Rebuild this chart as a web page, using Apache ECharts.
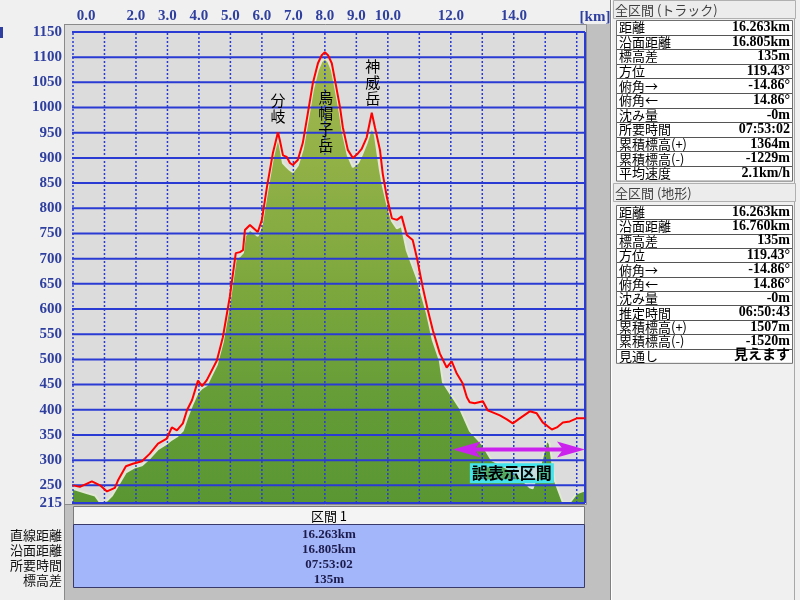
<!DOCTYPE html>
<html><head><meta charset="utf-8">
<script src="https://cdn.jsdelivr.net/npm/echarts@6/dist/echarts.min.js"></script>
<style>html,body{margin:0;padding:0;background:#f0f0f0;}#c{width:800px;height:600px;}</style>
</head><body><div id="c"></div>
<script>
// ---- data ----
const trackDist = [0,0.22,0.60,0.86,1.08,1.33,1.43,1.68,1.90,2.19,2.44,2.70,2.98,3.14,3.30,3.49,3.62,3.78,3.97,4.10,4.25,4.57,4.76,4.98,5.17,5.30,5.40,5.46,5.62,5.87,6.00,6.16,6.35,6.51,6.57,6.67,6.79,6.89,6.98,7.14,7.30,7.46,7.62,7.78,7.90,8.00,8.10,8.22,8.32,8.48,8.57,8.73,8.89,9.05,9.17,9.33,9.49,9.59,9.75,9.84,9.97,10.13,10.29,10.44,10.60,10.79,10.92,11.11,11.27,11.43,11.65,11.87,12.03,12.19,12.38,12.51,12.60,12.76,13.02,13.17,13.33,13.56,13.78,13.97,14.19,14.51,14.73,14.92,15.21,15.37,15.56,15.78,16.00,16.263];
const trackElev = [250,247,258,250,238,245,260,288,293,298,313,333,343,365,359,373,399,419,458,447,459,498,544,624,711,713,717,757,767,753,777,842,910,951,935,905,902,890,886,896,930,989,1049,1088,1104,1110,1104,1088,1055,1001,961,916,900,909,918,941,990,961,916,868,822,780,777,784,747,737,703,643,598,558,512,484,496,472,452,425,415,413,417,399,395,389,381,373,383,397,393,375,361,365,375,377,383,383];
const terrainDist = [0,0.38,0.70,0.86,1.08,1.24,1.43,1.68,1.97,2.19,2.44,2.70,2.98,3.14,3.30,3.49,3.62,3.78,3.97,4.10,4.25,4.57,4.76,4.98,5.17,5.30,5.40,5.46,5.62,5.87,6.00,6.16,6.35,6.51,6.57,6.67,6.79,6.89,6.98,7.14,7.30,7.46,7.62,7.78,7.90,8.00,8.10,8.22,8.32,8.48,8.57,8.73,8.89,9.05,9.17,9.33,9.49,9.59,9.75,9.84,9.97,10.13,10.29,10.44,10.60,10.92,11.24,11.43,11.65,11.75,12.29,12.60,12.98,13.30,13.78,14.19,14.51,14.60,14.89,15.05,15.14,15.30,15.56,15.78,16.00,16.263];
const terrainElev = [243,236,230,216,220,230,250,276,286,290,304,322,333,341,347,359,383,409,435,443,449,490,535,615,700,705,712,745,758,745,768,830,900,942,925,890,882,876,872,885,918,975,1035,1075,1092,1098,1092,1075,1043,988,950,905,882,890,905,930,962,945,876,845,810,775,760,765,717,663,592,538,498,455,403,359,333,300,284,266,246,244,300,340,333,260,216,216,234,240];
const xLabelValues = [0,2,3,4,5,6,7,8,9,10,12,14];
const xGridValues = [0,1,2,3,4,5,6,7,8,9,10,11,12,13,14,15,16];
const yTickValues = [215,250,300,350,400,450,500,550,600,650,700,750,800,850,900,950,1000,1050,1100,1150];
const X_MIN = 0, X_MAX = 16.263, Y_MIN = 215, Y_MAX = 1150;
const peakNames = ['分岐','烏帽子岳','神威岳'];
const peakDist = [6.51, 8.03, 9.52];
const peakLabelElev = [999, 973, 1051];
const errorRangeStart = 12.06, errorRangeEnd = 16.263, errorArrowElev = 321;
const errorLabel = '誤表示区間', errorLabelDist = 13.94, errorLabelElev = 274;
const sectionTitle = '区間 1';
const sectionLabels = ['直線距離','沿面距離','所要時間','標高差'];
const sectionValues = ['16.263km','16.805km','07:53:02','135m'];
const panel1Title = '全区間 (トラック)';
const panel1Labels = ['距離','沿面距離','標高差','方位','俯角→','俯角←','沈み量','所要時間','累積標高(+)','累積標高(-)','平均速度'];
const panel1Values = ['16.263km','16.805km','135m','119.43°','-14.86°','14.86°','-0m','07:53:02','1364m','-1229m','2.1km/h'];
const panel2Title = '全区間 (地形)';
const panel2Labels = ['距離','沿面距離','標高差','方位','俯角→','俯角←','沈み量','推定時間','累積標高(+)','累積標高(-)','見通し'];
const panel2Values = ['16.263km','16.760km','135m','119.43°','-14.86°','14.86°','-0m','06:50:43','1507m','-1520m','見えます'];

// ---- styles ----
const AX = '#2f3f9f';
const SERIF = '"Liberation Serif", "Noto Sans CJK JP", serif';
const JP = '"Noto Sans CJK JP", sans-serif';
const GRID_BLUE = '#2a3bd4';

const chart = echarts.init(document.getElementById('c'));

const option = {
  animation: false,
  backgroundColor: '#f0f0f0',
  grid: { left: 73, top: 32, width: 512, height: 471, containLabel: false },
  xAxis: {
    type: 'value', position: 'top', min: X_MIN, max: X_MAX,
    axisLine: { show: false }, axisTick: { show: false }, splitLine: { show: false },
    axisLabel: {
      customValues: xLabelValues, margin: 8,
      color: AX, fontFamily: SERIF, fontWeight: 'bold', fontSize: 15,
      formatter: v => v === 0 ? '{z|0.0}' : v.toFixed(1),
      rich: { z: { padding: [0,0,0,26], color: AX, fontFamily: SERIF, fontWeight: 'bold', fontSize: 15 } }
    }
  },
  yAxis: {
    type: 'value', min: Y_MIN, max: Y_MAX,
    axisLine: { show: false }, axisTick: { show: false }, splitLine: { show: false },
    axisLabel: { customValues: yTickValues, margin: 11, color: AX, fontFamily: SERIF, fontWeight: 'bold', fontSize: 15,
      formatter: v => String(v) }
  },
  series: [
    {
      name: 'terrain', type: 'line', z: 2, silent: true, showSymbol: false,
      data: terrainDist.map((d, i) => [d, terrainElev[i]]),
      lineStyle: { color: '#e2e8d6', width: 2 },
      areaStyle: {
        opacity: 1,
        color: new echarts.graphic.LinearGradient(0, 0, 0, 1, [
          { offset: 0, color: '#a2b84e' },
          { offset: 0.5, color: '#7ea83e' },
          { offset: 0.8, color: '#629b36' },
          { offset: 1, color: '#5a9733' }
        ])
      }
    },
    {
      name: 'hgrid', type: 'custom', z: 3, silent: true,
      data: yTickValues.map(v => [X_MIN, v]),
      renderItem: (params, api) => {
        const v = api.value(1);
        const a = api.coord([X_MIN, v]), b = api.coord([X_MAX, v]);
        return { type: 'line', shape: { x1: a[0] - 1, y1: a[1], x2: b[0], y2: b[1] }, style: { stroke: GRID_BLUE, lineWidth: 2 } };
      }
    },
    {
      name: 'vgrid', type: 'custom', z: 3, silent: true,
      data: xGridValues.concat([X_MAX]).map(v => [v, Y_MIN]),
      renderItem: (params, api) => {
        const v = api.value(0);
        const a = api.coord([v, Y_MIN]), b = api.coord([v, Y_MAX]);
        const edge = v >= X_MAX;
        return { type: 'line', shape: { x1: a[0], y1: a[1], x2: b[0], y2: b[1] },
          style: edge ? { stroke: GRID_BLUE, lineWidth: 2 } : { stroke: GRID_BLUE, lineWidth: 1.5, lineDash: [2, 2] } };
      }
    },
    {
      name: 'track', type: 'line', z: 4, silent: true, showSymbol: false,
      data: trackDist.map((d, i) => [d, trackElev[i]]),
      lineStyle: { color: '#ff0000', width: 2 }
    }
  ]
};
chart.setOption(option);

const px = (d, e) => chart.convertToPixel({ gridIndex: 0 }, [d, e]);
const g = [];
// frame behind plot
g.push({ type: 'rect', z: -10, shape: { x: 64, y: 24, width: 546, height: 576 }, style: { fill: '#c0c0c0' } });
g.push({ type: 'rect', z: -9, shape: { x: 64.5, y: 24.5, width: 522, height: 480 }, style: { fill: '#dcdcdc', stroke: '#8a8a8a', lineWidth: 1 } });
g.push({ type: 'line', z: -8, shape: { x1: 64.5, y1: 24, x2: 64.5, y2: 600 }, style: { stroke: '#8a8a8a', lineWidth: 1 } });
// top-left clipped unit mark
g.push({ type: 'rect', z: 50, shape: { x: 0, y: 27, width: 3, height: 11 }, style: { fill: AX } });
// km unit
g.push({ type: 'text', z: 50, x: 595, y: 17, style: { text: '[km]', fill: AX, fontFamily: SERIF, fontWeight: 'bold', fontSize: 15, align: 'center', verticalAlign: 'middle' } });

// peak annotations
peakNames.forEach((n, i) => {
  const p = px(peakDist[i], peakLabelElev[i]);
  g.push({ type: 'text', z: 60, x: p[0], y: p[1], style: { text: n.split('').join('\n'), fill: '#000', fontFamily: JP, fontSize: 15, lineHeight: 16, align: 'center', verticalAlign: 'middle' } });
});

// error range arrow
{
  const a = px(errorRangeStart, errorArrowElev), b = px(errorRangeEnd, errorArrowElev);
  const c = '#cc22ee';
  g.push({ type: 'line', z: 60, shape: { x1: a[0] + 15, y1: a[1], x2: b[0] - 15, y2: b[1] }, style: { stroke: c, lineWidth: 4 } });
  g.push({ type: 'polygon', z: 60, shape: { points: [[a[0], a[1]], [a[0] + 28, a[1] - 8], [a[0] + 22, a[1]], [a[0] + 28, a[1] + 8]] }, style: { fill: c } });
  g.push({ type: 'polygon', z: 60, shape: { points: [[b[0], b[1]], [b[0] - 28, b[1] - 8], [b[0] - 22, b[1]], [b[0] - 28, b[1] + 8]] }, style: { fill: c } });
  const t = px(errorLabelDist, errorLabelElev);
  g.push({ type: 'text', z: 61, x: t[0], y: t[1], style: { text: errorLabel, fill: '#000', fontFamily: JP, fontSize: 16, fontWeight: 'bold', align: 'center', verticalAlign: 'middle', textBorderColor: '#44e4ec', textBorderWidth: 4, textShadowColor: '#44e4ec', textShadowBlur: 3 } });
}

// bottom section table
g.push({ type: 'rect', z: 1, shape: { x: 73.5, y: 506.5, width: 511, height: 18 }, style: { fill: '#f4f4f4', stroke: '#7a7a7a', lineWidth: 1 } });
g.push({ type: 'rect', z: 1, shape: { x: 73.5, y: 524.5, width: 511, height: 63 }, style: { fill: '#a4b6fa', stroke: '#3a3a6a', lineWidth: 1 } });
g.push({ type: 'text', z: 50, x: 329, y: 516, style: { text: sectionTitle, fill: '#000', fontFamily: JP, fontSize: 13, align: 'center', verticalAlign: 'middle' } });
sectionValues.forEach((v, i) => {
  const y = 535 + i * 15;
  g.push({ type: 'text', z: 50, x: 329, y, style: { text: v, fill: '#1c1c4c', fontFamily: SERIF, fontWeight: 'bold', fontSize: 13, align: 'center', verticalAlign: 'middle' } });
  g.push({ type: 'text', z: 50, x: 62, y, style: { text: sectionLabels[i], fill: '#111', fontFamily: JP, fontSize: 13, align: 'right', verticalAlign: 'middle' } });
});

// right panels
g.push({ type: 'line', z: 1, shape: { x1: 610.5, y1: 0, x2: 610.5, y2: 600 }, style: { stroke: '#808080', lineWidth: 1 } });
g.push({ type: 'line', z: 1, shape: { x1: 611.5, y1: 0, x2: 611.5, y2: 600 }, style: { stroke: '#ffffff', lineWidth: 1 } });
g.push({ type: 'line', z: 1, shape: { x1: 794.5, y1: 0, x2: 794.5, y2: 600 }, style: { stroke: '#a8a8a8', lineWidth: 1 } });
function panel(title, titleY, top, rowH, labels, values) {
  g.push({ type: 'rect', z: 1, shape: { x: 613.5, y: titleY - 9.5, width: 182, height: 18 }, style: { fill: '#ececec', stroke: '#b0b0b0', lineWidth: 1 } });
  g.push({ type: 'text', z: 50, x: 615, y: titleY, style: { text: title, fill: '#404040', fontFamily: JP, fontSize: 13, align: 'left', verticalAlign: 'middle' } });
  const h = rowH * labels.length;
  g.push({ type: 'rect', z: 1, shape: { x: 616.5, y: top + 0.5, width: 176, height: h }, style: { fill: '#ffffff', stroke: '#707070', lineWidth: 1 } });
  labels.forEach((l, i) => {
    const cy = top + rowH * (i + 0.5);
    if (i > 0) g.push({ type: 'line', z: 2, shape: { x1: 617, y1: Math.round(top + rowH * i) + 0.5, x2: 792, y2: Math.round(top + rowH * i) + 0.5 }, style: { stroke: '#555', lineWidth: 1 } });
    g.push({ type: 'text', z: 50, x: 619, y: cy, style: { text: l, fill: '#000', fontFamily: JP, fontSize: 13, align: 'left', verticalAlign: 'middle' } });
    g.push({ type: 'text', z: 50, x: 790, y: cy, style: { text: values[i], fill: '#000', fontFamily: SERIF, fontWeight: 'bold', fontSize: 14, align: 'right', verticalAlign: 'middle' } });
  });
}
panel(panel1Title, 10, 20, 14.6, panel1Labels, panel1Values);
panel(panel2Title, 193, 205, 14.35, panel2Labels, panel2Values);

chart.setOption({ graphic: { elements: g } });
</script>
</body></html>
